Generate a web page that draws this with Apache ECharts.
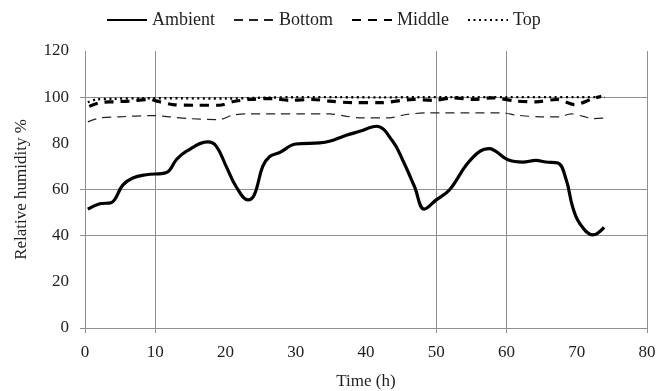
<!DOCTYPE html>
<html>
<head>
<meta charset="utf-8">
<script src="https://cdn.jsdelivr.net/npm/echarts@6/dist/echarts.min.js"></script>
<style>html,body{margin:0;padding:0;background:#fff;}#c{width:656px;height:391px;}</style>
</head>
<body>
<div id="c"></div>
<script>
// ---- data ----
const seriesNames = ['Ambient', 'Bottom', 'Middle', 'Top'];

const ambientT = [0.4, 2.1, 3.7, 5.4, 6.8, 8.7, 11.6, 13, 14.4, 17.5, 18.7, 20.1, 21.5, 23.2, 24.1, 25.3, 26.3, 27.7, 30, 33.4, 34.8, 37.2, 39.1, 41.5, 43.8, 45.2, 46.9, 48.3, 50, 51.9, 54.3, 56.2, 57.6, 58.5, 60.2, 62.3, 64.2, 65.6, 67.3, 68.5, 69.4, 70.4, 72.3, 73.9];
const ambientV = [51.5, 53.8, 54.3, 62, 65, 66.4, 67.4, 72.9, 76.5, 80.6, 78.7, 70, 61.3, 55.5, 57.7, 70, 74.3, 76, 79.7, 80.2, 80.9, 83.5, 85.2, 87.4, 80.9, 72.9, 61.3, 51.5, 55.5, 59.9, 70.7, 76.5, 77.7, 76.5, 72.9, 71.9, 72.6, 71.9, 71.5, 64.2, 52.6, 45.4, 40.3, 43.6];

const bottomT = [0.4, 2.1, 4.9, 9.7, 12, 14.9, 19.1, 21, 22.9, 27.2, 31, 34.8, 37.2, 39.5, 43.3, 45.7, 49, 54.3, 59.5, 61.4, 65.2, 67.5, 69.2, 70.9, 72.3, 74];
const bottomV = [89.3, 91, 91.5, 92, 91.5, 90.7, 90.3, 92.2, 92.8, 92.8, 92.8, 92.8, 91.7, 91, 91, 92.5, 93.2, 93.2, 93.2, 92.2, 91.5, 91.5, 92.8, 91.7, 90.7, 91];

const middleT = [0.6, 2.1, 4, 6.3, 9.2, 10.6, 12.5, 15.8, 19.1, 21, 23.4, 26.7, 29.1, 32.4, 34.8, 38.1, 41.9, 46.7, 49.5, 52.4, 55.2, 58, 61.4, 64.2, 67.1, 69.7, 72.3, 73.5];
const middleV = [96, 97.6, 98, 98.3, 99, 98, 96.8, 96.5, 96.5, 98, 99, 99.4, 98.6, 99, 98.3, 97.6, 97.6, 99, 98.6, 99.7, 99, 99.7, 98.3, 98, 99, 96.8, 99.4, 100.4];

const topT = [0.4, 1.6, 4, 8, 14, 20, 26, 30, 36, 42, 48, 54, 60, 66, 70, 74];
const topV = [97.8, 99, 99.3, 99.5, 99.5, 99.4, 99.8, 100, 100, 99.9, 100, 100, 100, 100, 100, 100];

const xLabelValues = [0, 10, 20, 30, 40, 50, 60, 70, 80];
const xGridValues = [0, 10, 50, 60, 80];
const yLabelValues = [0, 20, 40, 60, 80, 100, 120];
const yGridValues = [0, 40, 60, 100];

// ---- chart ----
const pair = (t, v) => t.map((x, i) => [x, v[i]]);
const FONT = '"Liberation Serif", "DejaVu Serif", serif';
const TXT = '#1e1e1e';
const GRID = '#8f8f8f';

const chart = echarts.init(document.getElementById('c'), null, {renderer: 'canvas'});
chart.setOption({
  animation: false,
  backgroundColor: '#fff',
  grid: {left: 85, right: 9, top: 51, bottom: 63, outerBoundsMode: 'none', containLabel: false},
  legend: {
    left: 101, top: 6,
    itemWidth: 40, itemHeight: 14, itemGap: 18,
    itemStyle: {opacity: 0, color: 'transparent', borderWidth: 0},
    textStyle: {fontFamily: FONT, fontSize: 18, color: TXT},
    data: seriesNames
  },
  xAxis: {
    type: 'value', min: 0, max: 80, interval: 10,
    name: 'Time (h)', nameLocation: 'middle', nameGap: 45,
    nameTextStyle: {fontFamily: FONT, fontSize: 17, color: TXT},
    axisLine: {show: true, lineStyle: {color: GRID, width: 1}},
    axisTick: {show: true, inside: false, length: 5, customValues: xGridValues, lineStyle: {color: GRID}},
    axisLabel: {customValues: xLabelValues, fontFamily: FONT, fontSize: 17, color: TXT, margin: 16},
    splitLine: {show: true, lineStyle: {color: GRID, width: 1}}
  },
  yAxis: {
    type: 'value', min: 0, max: 120, interval: 20,
    name: 'Relative humidity %', nameLocation: 'middle', nameGap: 55,
    nameTextStyle: {fontFamily: FONT, fontSize: 17, color: TXT},
    axisLine: {show: true, lineStyle: {color: GRID, width: 1}},
    axisTick: {show: true, inside: false, length: 5, customValues: yGridValues, lineStyle: {color: GRID}},
    axisLabel: {customValues: yLabelValues, fontFamily: FONT, fontSize: 17, color: TXT, margin: 16},
    splitLine: {show: true, lineStyle: {color: GRID, width: 1}}
  },
  series: [
    {name: 'Ambient', type: 'line', data: pair(ambientT, ambientV), smooth: 0.4, symbol: 'none',
     lineStyle: {color: '#000', width: 3.2, type: 'solid'}, itemStyle: {color: '#000'}},
    {name: 'Bottom', type: 'line', data: pair(bottomT, bottomV), smooth: 0.3, symbol: 'none',
     lineStyle: {color: '#222', width: 1.2, type: [9, 6]}, itemStyle: {color: '#222'}},
    {name: 'Middle', type: 'line', data: pair(middleT, middleV), smooth: 0.3, symbol: 'none',
     lineStyle: {color: '#000', width: 3.2, type: [9, 7]}, itemStyle: {color: '#000'}},
    {name: 'Top', type: 'line', data: pair(topT, topV), smooth: 0.3, symbol: 'none',
     lineStyle: {color: '#000', width: 2.4, type: [2, 3.5]}, itemStyle: {color: '#000'}}
  ]
});
</script>
</body>
</html>
